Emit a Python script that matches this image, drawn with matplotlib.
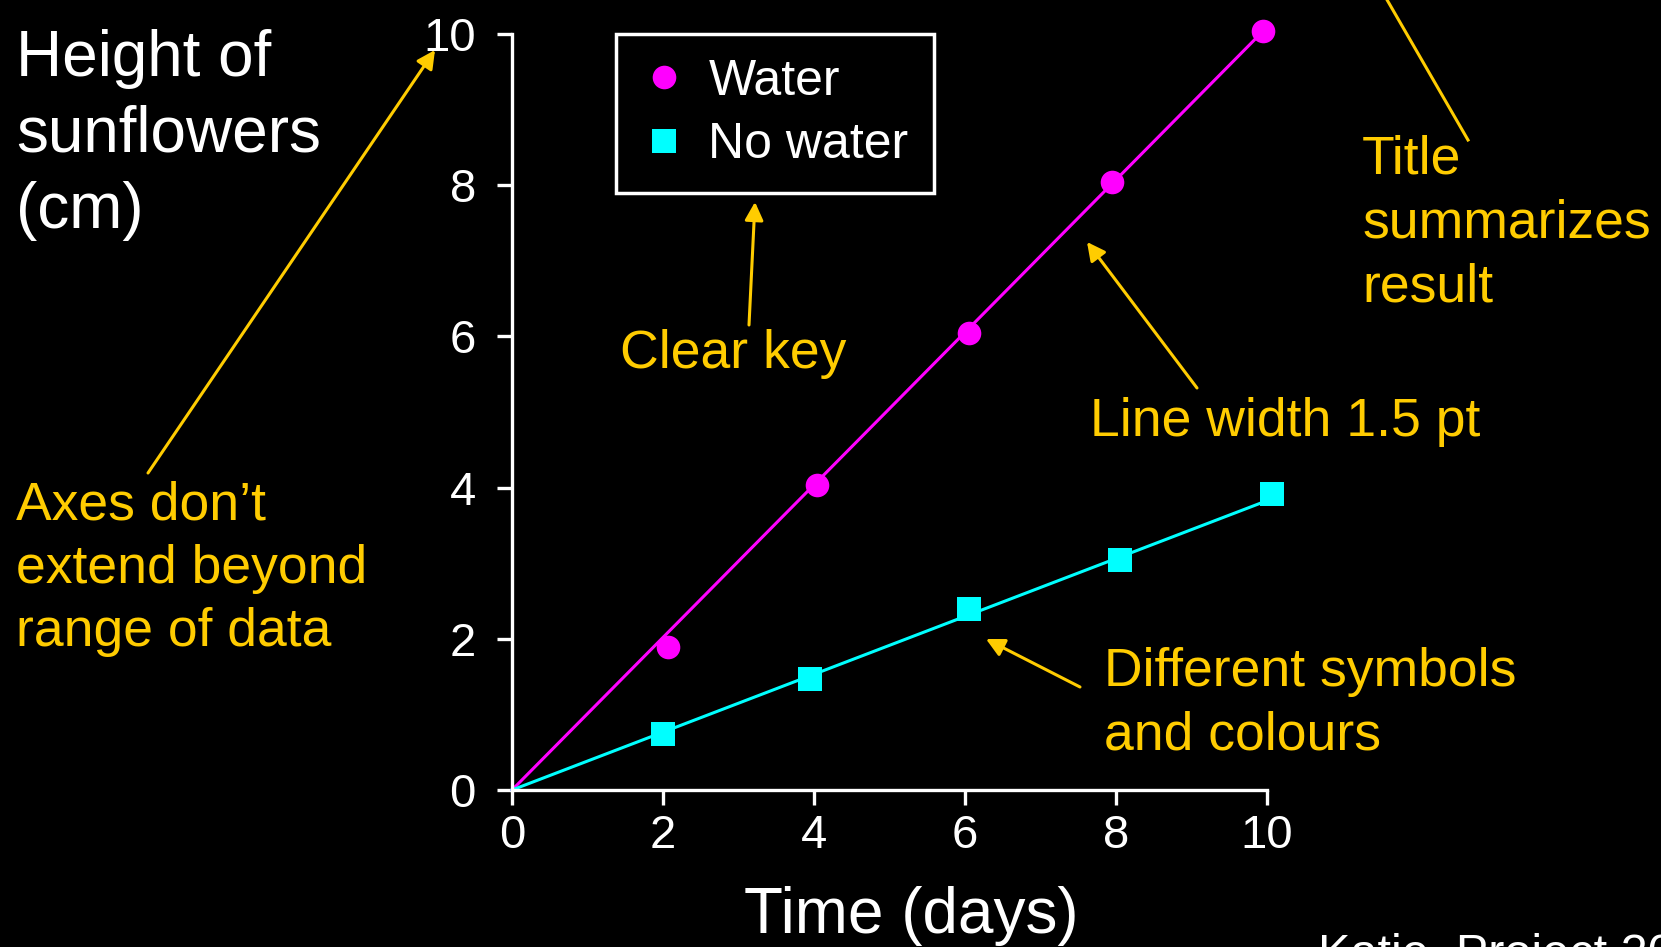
import matplotlib
matplotlib.use("Agg")
import matplotlib.pyplot as plt
from matplotlib.lines import Line2D
from matplotlib.patches import FancyArrowPatch

plt.rcParams['font.family'] = ['Liberation Sans', 'DejaVu Sans']

# Measured sunflower heights (cm) against time (days)
water_days = [2.06, 4.04, 6.05, 7.95, 9.95]
water_height = [1.89, 4.04, 6.04, 8.04, 10.04]
dry_days = [2.0, 3.95, 6.05, 8.05, 10.06]
dry_height = [0.74, 1.47, 2.39, 3.04, 3.92]

# Straight trend lines drawn from the origin
water_fit_days = [0, 9.95]
water_fit_height = [0, 10.04]
dry_fit_days = [0, 10.06]
dry_fit_height = [0, 3.85]

x_ticks = [0, 2, 4, 6, 8, 10]
y_ticks = [0, 2, 4, 6, 8, 10]

MAGENTA = '#FF00FF'
CYAN = '#00FFFF'
GOLD = '#FFCC00'

W, H = 1661, 947
fig = plt.figure(figsize=(W / 100, H / 100), dpi=100, facecolor='black')


def fxy(px, py):
    """Pixel position on the slide -> figure fraction."""
    return (px / W, 1 - py / H)


ax = fig.add_axes([512 / W, 1 - 790 / H, 755 / W, 756 / H], facecolor='black')

ax.plot(water_fit_days, water_fit_height, color=MAGENTA, lw=2.2,
        clip_on=False, zorder=2)
ax.plot(dry_fit_days, dry_fit_height, color=CYAN, lw=2.2,
        clip_on=False, zorder=2)
ax.plot(water_days, water_height, 'o', ms=17, mew=0, color=MAGENTA,
        label='Water', clip_on=False, zorder=3)
ax.plot(dry_days, dry_height, 's', ms=17, mew=0, color=CYAN,
        label='No water', clip_on=False, zorder=3)

ax.set_xlim(0, 10)
ax.set_ylim(0, 10)
ax.set_xticks(x_ticks)
ax.set_yticks(y_ticks)
for side in ('top', 'right'):
    ax.spines[side].set_visible(False)
for side in ('left', 'bottom'):
    ax.spines[side].set_color('white')
    ax.spines[side].set_linewidth(2.4)
ax.tick_params(colors='white', width=2.4, length=11, labelsize=34,
               direction='out')
ax.tick_params(axis='x', pad=6)
ax.tick_params(axis='y', pad=15)

ax.set_xlabel('Time (days)', fontsize=46, color='white', va='baseline')
ax.xaxis.set_label_coords((911 - 512) / 755, (790 - 933) / 756)

leg = ax.legend(loc='upper left', bbox_to_anchor=fxy(616, 34),
                bbox_transform=fig.transFigure, borderaxespad=0,
                frameon=True, fancybox=False, fontsize=36,
                labelcolor='white', facecolor='black', edgecolor='white',
                framealpha=1, borderpad=0.5, labelspacing=0.35,
                handlelength=0.9, handletextpad=0.45)
leg.get_frame().set_linewidth(2.5)


def stacked(px, py, lines, step, **kw):
    for i, line in enumerate(lines):
        fig.text(*fxy(px, py + i * step), line, ha='left', va='baseline', **kw)


# Vertical axis title
stacked(16, 76, ['Height of', 'sunflowers', '(cm)'], 76,
        fontsize=46, color='white')

# Call-outs
note = dict(fontsize=38.5, color=GOLD)
stacked(16, 520, ['Axes don’t', 'extend beyond', 'range of data'], 63, **note)
stacked(1362, 173, ['Title', 'summarizes', 'result'], 64, **note)
stacked(620, 368, ['Clear key'], 0, **note)
stacked(1090, 436, ['Line width 1.5 pt'], 0, **note)
stacked(1104, 686, ['Different symbols', 'and colours'], 63, **note)

stacked(1318, 968, ['Katie, Project 20'], 0, fontsize=35, color='white')

arrows = [
    ((148, 473), (435, 50)),
    ((749, 325), (755, 202)),
    ((1197, 388), (1087, 242)),
    ((1080, 687), (986, 639)),
]
for tail, head in arrows:
    fig.add_artist(FancyArrowPatch(
        fxy(*tail), fxy(*head), transform=fig.transFigure,
        arrowstyle='-|>,head_length=0.55,head_width=0.28',
        mutation_scale=20, color=GOLD, lw=2.2, shrinkA=0, shrinkB=0))

# Pointer running up to the title above the chart
fig.add_artist(Line2D([fxy(1468, 140)[0], fxy(1375, -21)[0]],
                      [fxy(1468, 140)[1], fxy(1375, -21)[1]],
                      transform=fig.transFigure, color=GOLD, lw=2.2))

fig.savefig('out.png', dpi=100, facecolor='black')
